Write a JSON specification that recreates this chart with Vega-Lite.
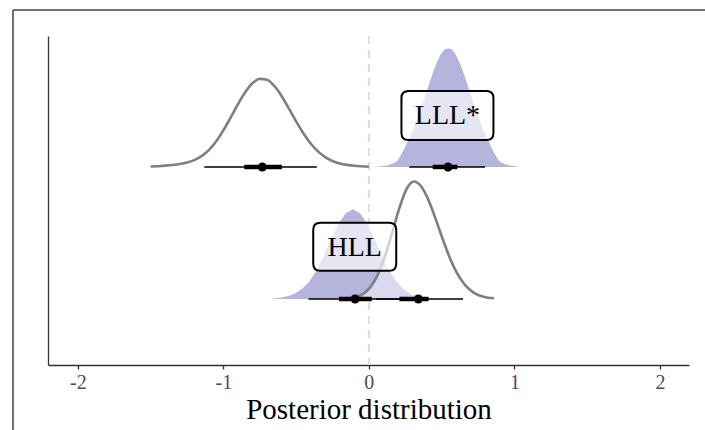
{
  "$schema": "https://vega.github.io/schema/vega-lite/v6.json",
  "width": 641,
  "height": 329,
  "autosize": {"type": "none"},
  "padding": {"left": 48, "top": 36, "right": 16, "bottom": 65},
  "background": "white",
  "config": {
    "view": {"stroke": null},
    "font": "Liberation Serif"
  },
  "datasets": {
    "frame": [
      {"x": -2.4456, "x2": -2.4456, "y": 0, "y2": 3.189},
      {"x": -2.4456, "x2": 2.32, "y": 3.189, "y2": 3.189}
    ],
    "dens": [
      {"g": "g2", "b": 2, "x": -1.5, "y": 2.003},
      {"g": "g2", "b": 2, "x": -1.45, "y": 2.006},
      {"g": "g2", "b": 2, "x": -1.4, "y": 2.01},
      {"g": "g2", "b": 2, "x": -1.35, "y": 2.015},
      {"g": "g2", "b": 2, "x": -1.3, "y": 2.022},
      {"g": "g2", "b": 2, "x": -1.25, "y": 2.033},
      {"g": "g2", "b": 2, "x": -1.2, "y": 2.052},
      {"g": "g2", "b": 2, "x": -1.15, "y": 2.082},
      {"g": "g2", "b": 2, "x": -1.1, "y": 2.128},
      {"g": "g2", "b": 2, "x": -1.05, "y": 2.193},
      {"g": "g2", "b": 2, "x": -1.0, "y": 2.277},
      {"g": "g2", "b": 2, "x": -0.95, "y": 2.374},
      {"g": "g2", "b": 2, "x": -0.9, "y": 2.475},
      {"g": "g2", "b": 2, "x": -0.85, "y": 2.566},
      {"g": "g2", "b": 2, "x": -0.8, "y": 2.634},
      {"g": "g2", "b": 2, "x": -0.75, "y": 2.667},
      {"g": "g2", "b": 2, "x": -0.7, "y": 2.66},
      {"g": "g2", "b": 2, "x": -0.65, "y": 2.614},
      {"g": "g2", "b": 2, "x": -0.6, "y": 2.538},
      {"g": "g2", "b": 2, "x": -0.55, "y": 2.443},
      {"g": "g2", "b": 2, "x": -0.5, "y": 2.345},
      {"g": "g2", "b": 2, "x": -0.45, "y": 2.255},
      {"g": "g2", "b": 2, "x": -0.4, "y": 2.178},
      {"g": "g2", "b": 2, "x": -0.35, "y": 2.118},
      {"g": "g2", "b": 2, "x": -0.3, "y": 2.075},
      {"g": "g2", "b": 2, "x": -0.25, "y": 2.045},
      {"g": "g2", "b": 2, "x": -0.2, "y": 2.027},
      {"g": "g2", "b": 2, "x": -0.15, "y": 2.016},
      {"g": "g2", "b": 2, "x": -0.1, "y": 2.009},
      {"g": "g2", "b": 2, "x": -0.05, "y": 2.005},
      {"g": "g2", "b": 2, "x": 0.0, "y": 2.002},

      {"g": "p2", "b": 2, "x": 0.045, "y": 2.002},
      {"g": "p2", "b": 2, "x": 0.07, "y": 2.004},
      {"g": "p2", "b": 2, "x": 0.095, "y": 2.008},
      {"g": "p2", "b": 2, "x": 0.12, "y": 2.012},
      {"g": "p2", "b": 2, "x": 0.145, "y": 2.018},
      {"g": "p2", "b": 2, "x": 0.17, "y": 2.028},
      {"g": "p2", "b": 2, "x": 0.195, "y": 2.045},
      {"g": "p2", "b": 2, "x": 0.22, "y": 2.09},
      {"g": "p2", "b": 2, "x": 0.245, "y": 2.14},
      {"g": "p2", "b": 2, "x": 0.27, "y": 2.2},
      {"g": "p2", "b": 2, "x": 0.295, "y": 2.26},
      {"g": "p2", "b": 2, "x": 0.32, "y": 2.325},
      {"g": "p2", "b": 2, "x": 0.345, "y": 2.4},
      {"g": "p2", "b": 2, "x": 0.37, "y": 2.48},
      {"g": "p2", "b": 2, "x": 0.395, "y": 2.565},
      {"g": "p2", "b": 2, "x": 0.42, "y": 2.65},
      {"g": "p2", "b": 2, "x": 0.445, "y": 2.73},
      {"g": "p2", "b": 2, "x": 0.47, "y": 2.8},
      {"g": "p2", "b": 2, "x": 0.495, "y": 2.855},
      {"g": "p2", "b": 2, "x": 0.52, "y": 2.89},
      {"g": "p2", "b": 2, "x": 0.545, "y": 2.9},
      {"g": "p2", "b": 2, "x": 0.57, "y": 2.89},
      {"g": "p2", "b": 2, "x": 0.595, "y": 2.855},
      {"g": "p2", "b": 2, "x": 0.62, "y": 2.8},
      {"g": "p2", "b": 2, "x": 0.645, "y": 2.73},
      {"g": "p2", "b": 2, "x": 0.67, "y": 2.65},
      {"g": "p2", "b": 2, "x": 0.695, "y": 2.565},
      {"g": "p2", "b": 2, "x": 0.72, "y": 2.48},
      {"g": "p2", "b": 2, "x": 0.745, "y": 2.4},
      {"g": "p2", "b": 2, "x": 0.77, "y": 2.325},
      {"g": "p2", "b": 2, "x": 0.795, "y": 2.26},
      {"g": "p2", "b": 2, "x": 0.82, "y": 2.2},
      {"g": "p2", "b": 2, "x": 0.845, "y": 2.14},
      {"g": "p2", "b": 2, "x": 0.87, "y": 2.09},
      {"g": "p2", "b": 2, "x": 0.895, "y": 2.045},
      {"g": "p2", "b": 2, "x": 0.92, "y": 2.028},
      {"g": "p2", "b": 2, "x": 0.945, "y": 2.018},
      {"g": "p2", "b": 2, "x": 0.97, "y": 2.012},
      {"g": "p2", "b": 2, "x": 0.995, "y": 2.008},
      {"g": "p2", "b": 2, "x": 1.02, "y": 2.004},

      {"g": "p1", "b": 1, "x": -0.66, "y": 1.004},
      {"g": "p1", "b": 1, "x": -0.61, "y": 1.01},
      {"g": "p1", "b": 1, "x": -0.56, "y": 1.02},
      {"g": "p1", "b": 1, "x": -0.51, "y": 1.04},
      {"g": "p1", "b": 1, "x": -0.46, "y": 1.075},
      {"g": "p1", "b": 1, "x": -0.41, "y": 1.13},
      {"g": "p1", "b": 1, "x": -0.36, "y": 1.216},
      {"g": "p1", "b": 1, "x": -0.31, "y": 1.326},
      {"g": "p1", "b": 1, "x": -0.26, "y": 1.45},
      {"g": "p1", "b": 1, "x": -0.21, "y": 1.566},
      {"g": "p1", "b": 1, "x": -0.16, "y": 1.649},
      {"g": "p1", "b": 1, "x": -0.11, "y": 1.68},
      {"g": "p1", "b": 1, "x": -0.06, "y": 1.649},
      {"g": "p1", "b": 1, "x": -0.01, "y": 1.566},
      {"g": "p1", "b": 1, "x": 0.04, "y": 1.45},
      {"g": "p1", "b": 1, "x": 0.09, "y": 1.326},
      {"g": "p1", "b": 1, "x": 0.14, "y": 1.216},
      {"g": "p1", "b": 1, "x": 0.19, "y": 1.13},
      {"g": "p1", "b": 1, "x": 0.24, "y": 1.072},
      {"g": "p1", "b": 1, "x": 0.29, "y": 1.036},
      {"g": "p1", "b": 1, "x": 0.34, "y": 1.017},
      {"g": "p1", "b": 1, "x": 0.39, "y": 1.007},
      {"g": "p1", "b": 1, "x": 0.44, "y": 1.003},

      {"g": "g1", "b": 1, "x": -0.19, "y": 1.0015},
      {"g": "g1", "b": 1, "x": -0.14, "y": 1.005},
      {"g": "g1", "b": 1, "x": -0.09, "y": 1.015},
      {"g": "g1", "b": 1, "x": -0.04, "y": 1.039},
      {"g": "g1", "b": 1, "x": 0.01, "y": 1.09},
      {"g": "g1", "b": 1, "x": 0.06, "y": 1.181},
      {"g": "g1", "b": 1, "x": 0.11, "y": 1.321},
      {"g": "g1", "b": 1, "x": 0.16, "y": 1.501},
      {"g": "g1", "b": 1, "x": 0.21, "y": 1.69},
      {"g": "g1", "b": 1, "x": 0.26, "y": 1.835},
      {"g": "g1", "b": 1, "x": 0.31, "y": 1.89},
      {"g": "g1", "b": 1, "x": 0.36, "y": 1.852},
      {"g": "g1", "b": 1, "x": 0.41, "y": 1.749},
      {"g": "g1", "b": 1, "x": 0.46, "y": 1.603},
      {"g": "g1", "b": 1, "x": 0.51, "y": 1.446},
      {"g": "g1", "b": 1, "x": 0.56, "y": 1.302},
      {"g": "g1", "b": 1, "x": 0.61, "y": 1.1875},
      {"g": "g1", "b": 1, "x": 0.66, "y": 1.107},
      {"g": "g1", "b": 1, "x": 0.71, "y": 1.056},
      {"g": "g1", "b": 1, "x": 0.76, "y": 1.027},
      {"g": "g1", "b": 1, "x": 0.81, "y": 1.012},
      {"g": "g1", "b": 1, "x": 0.86, "y": 1.005}
    ],
    "iv": [
      {"g": "g2", "b": 2, "lo95": -1.131, "hi95": -0.358, "lo50": -0.856, "hi50": -0.598, "med": -0.732},
      {"g": "p2", "b": 2, "lo95": 0.278, "hi95": 0.799, "lo50": 0.439, "hi50": 0.608, "med": 0.544},
      {"g": "p1", "b": 1, "lo95": -0.415, "hi95": 0.22, "lo50": -0.206, "hi50": 0.02, "med": -0.095},
      {"g": "g1", "b": 1, "lo95": 0.05, "hi95": 0.647, "lo50": 0.21, "hi50": 0.41, "med": 0.34}
    ],
    "labels": [
      {"label": "LLL*", "x": 0.54, "y": 2.39},
      {"label": "HLL", "x": -0.097, "y": 1.396}
    ]
  },
  "encoding": {
    "x": {
      "type": "quantitative",
      "scale": {"domain": [-2.205, 2.2], "nice": false, "zero": false},
      "axis": {
        "title": "Posterior distribution",
        "values": [-2, -1, 0, 1, 2],
        "labelExpr": "'' + datum.value",
        "grid": false,
        "domainColor": "#333333",
        "domainWidth": 1.3,
        "tickColor": "#333333",
        "tickSize": 4,
        "tickWidth": 1.3,
        "labelColor": "#4d4d4d",
        "labelFont": "Liberation Serif",
        "labelFontSize": 20,
        "labelPadding": 3,
        "titleFont": "Liberation Serif",
        "titleFontSize": 29,
        "titleFontWeight": "normal",
        "titleColor": "#000000",
        "titlePadding": 3
      }
    },
    "y": {
      "type": "quantitative",
      "scale": {"domain": [0.5, 2.992], "nice": false, "zero": false},
      "axis": {
        "title": null,
        "labels": false,
        "ticks": false,
        "grid": false,
        "domainColor": "#333333",
        "domainWidth": 1.3
      }
    }
  },
  "layer": [
    {
      "data": {"name": "frame"},
      "mark": {"type": "rule", "color": "#444444", "strokeWidth": 1.5, "clip": false},
      "encoding": {
        "x": {"field": "x", "type": "quantitative"},
        "x2": {"field": "x2"},
        "y": {"field": "y", "type": "quantitative"},
        "y2": {"field": "y2"}
      }
    },
    {
      "data": {"values": [{"x": 0}]},
      "mark": {"type": "rule", "color": "#dcdcdc", "strokeWidth": 2, "strokeDash": [8, 6]},
      "encoding": {
        "x": {"field": "x", "type": "quantitative"}
      }
    },
    {
      "data": {"name": "dens"},
      "transform": [{"filter": "datum.g == 'p2' || datum.g == 'p1'"}],
      "mark": {"type": "area", "color": "#b4b4dc", "opacity": 1},
      "encoding": {
        "x": {"field": "x", "type": "quantitative"},
        "y": {"field": "y", "type": "quantitative"},
        "y2": {"field": "b"},
        "detail": {"field": "g"}
      }
    },
    {
      "data": {"name": "dens"},
      "transform": [{"filter": "datum.g == 'g2' || datum.g == 'g1'"}],
      "mark": {"type": "area", "color": "#ffffff", "fillOpacity": 0.5},
      "encoding": {
        "x": {"field": "x", "type": "quantitative"},
        "y": {"field": "y", "type": "quantitative"},
        "y2": {"field": "b"},
        "detail": {"field": "g"}
      }
    },
    {
      "data": {"name": "dens"},
      "transform": [{"filter": "datum.g == 'g2' || datum.g == 'g1'"}],
      "mark": {"type": "line", "color": "#7f7f7f", "strokeWidth": 2.6, "interpolate": "monotone"},
      "encoding": {
        "x": {"field": "x", "type": "quantitative"},
        "y": {"field": "y", "type": "quantitative"},
        "detail": {"field": "g"}
      }
    },
    {
      "data": {"name": "iv"},
      "mark": {"type": "rule", "color": "#000000", "strokeWidth": 1.6},
      "encoding": {
        "x": {"field": "lo95", "type": "quantitative"},
        "x2": {"field": "hi95"},
        "y": {"field": "b", "type": "quantitative"}
      }
    },
    {
      "data": {"name": "iv"},
      "mark": {"type": "rule", "color": "#000000", "strokeWidth": 4.5},
      "encoding": {
        "x": {"field": "lo50", "type": "quantitative"},
        "x2": {"field": "hi50"},
        "y": {"field": "b", "type": "quantitative"}
      }
    },
    {
      "data": {"name": "iv"},
      "mark": {"type": "point", "shape": "circle", "filled": true, "color": "#000000", "size": 80, "opacity": 1},
      "encoding": {
        "x": {"field": "med", "type": "quantitative"},
        "y": {"field": "b", "type": "quantitative"}
      }
    },
    {
      "data": {"name": "labels"},
      "mark": {"type": "point", "filled": false, "fill": "#ffffff", "fillOpacity": 0.65, "stroke": "#000000", "strokeWidth": 2, "opacity": 1, "size": 4},
      "encoding": {
        "x": {"field": "x", "type": "quantitative"},
        "y": {"field": "y", "type": "quantitative"},
        "shape": {
          "field": "label",
          "type": "nominal",
          "scale": {
            "domain": ["LLL*", "HLL"],
            "range": [
              "M -39,-24.5 L 39,-24.5 Q 46,-24.5 46,-17.5 L 46,17.5 Q 46,24.5 39,24.5 L -39,24.5 Q -46,24.5 -46,17.5 L -46,-17.5 Q -46,-24.5 -39,-24.5 Z",
              "M -34.5,-24 L 34.5,-24 Q 41.5,-24 41.5,-17 L 41.5,17 Q 41.5,24 34.5,24 L -34.5,24 Q -41.5,24 -41.5,17 L -41.5,-17 Q -41.5,-24 -34.5,-24 Z"
            ]
          },
          "legend": null
        }
      }
    },
    {
      "data": {"name": "labels"},
      "mark": {"type": "text", "font": "Liberation Serif", "fontSize": 28, "color": "#000000", "align": "center", "baseline": "middle", "dy": 1},
      "encoding": {
        "x": {"field": "x", "type": "quantitative"},
        "y": {"field": "y", "type": "quantitative"},
        "text": {"field": "label"}
      }
    }
  ]
}
